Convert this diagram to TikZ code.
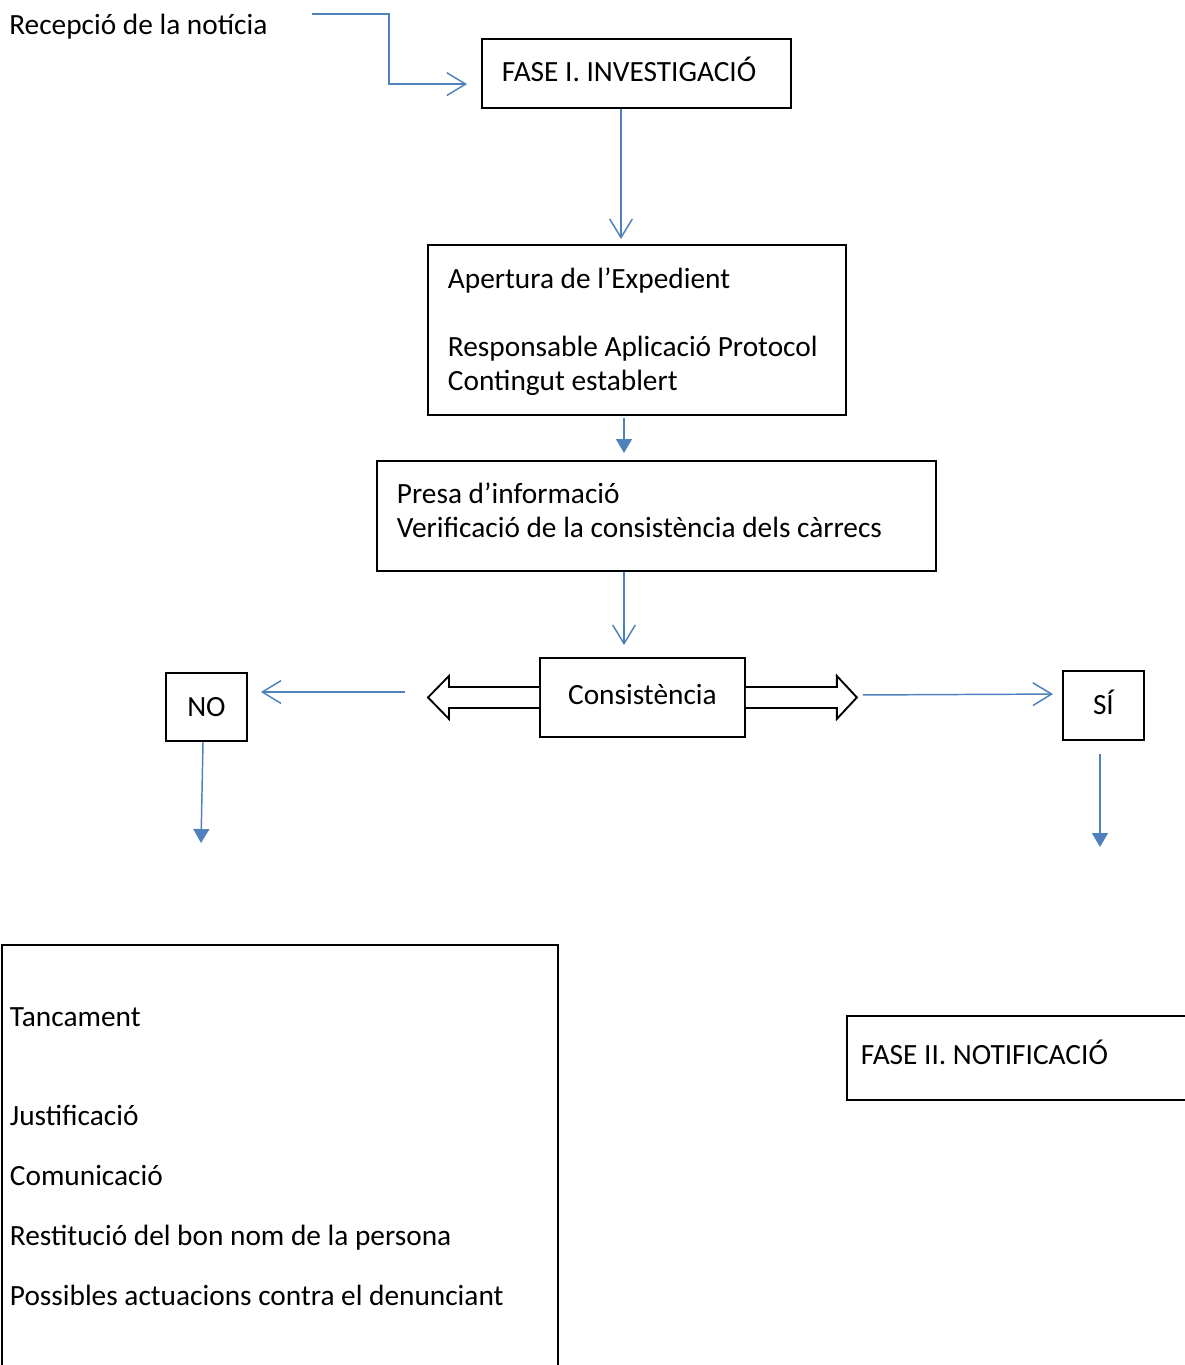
\documentclass[tikz,border=0pt]{standalone}
\usepackage{fontspec}
\setmainfont{Carlito}
\usepackage{tikz}
\usetikzlibrary{arrows.meta,calc}

\definecolor{blauflux}{RGB}{79,129,189}

\begin{document}
\begin{tikzpicture}[x=0.75pt,y=0.75pt,yscale=-1,xscale=1,
    caixa/.style={draw, line width=1.4pt, rectangle, inner xsep=15pt, inner ysep=0pt, align=left, font=\fontsize{22}{25.5}\selectfont,
        execute at begin node={\frenchspacing\spaceskip=0pt\xspaceskip=0pt}},
    lliure/.style={inner sep=0pt, font=\fontsize{22}{25.5}\selectfont},
    obert/.style={draw=blauflux, line width=1.1pt, -{Straight Barb[length=14pt,width=17pt]}},
    ple/.style={draw=blauflux, line width=1.1pt, -{Triangle[length=10.5pt,width=12pt]}},
    bloc/.style={draw, line width=1.4pt, fill=white, line join=miter}]
    \useasboundingbox (0,0) rectangle (1185,1365);
    \node [lliure, anchor=base west] (recepcio) at (9,34) {Recepció de la notícia};
    \node [caixa, anchor=north west, minimum width=231.75pt, minimum height=51.75pt, text width=201.75pt, text depth=6pt] (fase1) at (481,38) {FASE I. INVESTIGACIÓ};
    \node [caixa, anchor=north west, minimum width=313.5pt, minimum height=127.5pt, text width=283.5pt, text depth=77pt] (apertura) at (427,244) {Apertura de l’Expedient\\[25.5pt]Responsable Aplicació Protocol\\Contingut establert};
    \node [caixa, anchor=north west, minimum width=419.25pt, minimum height=82.5pt, text width=389.25pt, text depth=33.5pt] (presa) at (376,460) {Presa d’informació\\Verificació de la consistència dels càrrecs};
    \node [caixa, anchor=north west, align=center, minimum width=153.75pt, minimum height=59.25pt, text depth=4.5pt] (cons) at (539,657) {Consistència};
    \node [caixa, anchor=north west, align=center, inner xsep=0pt, minimum width=60.75pt, minimum height=51pt] (no) at (165,672) {NO};
    \node [caixa, anchor=north west, align=center, inner xsep=0pt, minimum width=60.75pt, minimum height=51.75pt, text depth=4.5pt] (si) at (1062,670) {SÍ};
    \node [caixa, anchor=north west, inner xsep=6pt, minimum width=417pt, minimum height=317.25pt, text width=405pt] (tancament) at (1,944) {Tancament\\[48.75pt]Justificació\\[19.5pt]Comunicació\\[19.5pt]Restitució del bon nom de la persona\\[19.5pt]Possibles actuacions contra el denunciant};
    \node [caixa, anchor=north west, inner xsep=10.5pt, minimum width=265.5pt, minimum height=63pt, text width=244.5pt, text depth=9pt] (fase2) at (846,1015) {FASE II. NOTIFICACIÓ};
    \draw [bloc] ($(cons.west)+(0,-10.5)$) -- ++(-90,0) -- ++(0,-11) -- ++(-21,21.5) -- ++(21,21.5) -- ++(0,-11) -- ++(90,0);
    \draw [bloc] ($(cons.east)+(0,-10.5)$) -- ++(91,0) -- ++(0,-11) -- ++(20,21.5) -- ++(-20,21.5) -- ++(0,-11) -- ++(-91,0);
    \coordinate (pe) at ($(cons.west)+(-111,0)$);
    \coordinate (pd) at ($(cons.east)+(111,0)$);
    \coordinate (r0) at (312,14);
    \coordinate (fiNo) at (201,843);
    \coordinate (fiSi) at (1100,847);
    \draw [obert, shorten >=10.5pt] (r0) -- (389,14) |- ([yshift=8pt]fase1.west);
    \draw [obert, shorten >=3.75pt] (fase1.south -| 621,0) -- (apertura.north -| 621,0);
    \draw [ple, shorten <=1.5pt, shorten >=5.25pt] (apertura.south -| 624,0) -- (presa.north -| 624,0);
    \draw [obert, shorten >=9pt] (presa.south -| 624,0) -- (cons.north -| 624,0);
    \draw [obert, shorten <=17pt, shorten >=9.75pt] (pe |- 0,692) -- (no.east |- 0,692);
    \draw [obert, shorten <=4.5pt, shorten >=6.75pt] (pd |- 0,695) -- (si.west |- 0,694);
    \draw [ple] (no.south -| 203,0) -- (fiNo);
    \draw [ple, shorten <=9.75pt] (si.south -| 1100,0) -- (fiSi);
    \end{tikzpicture}
\end{document}
